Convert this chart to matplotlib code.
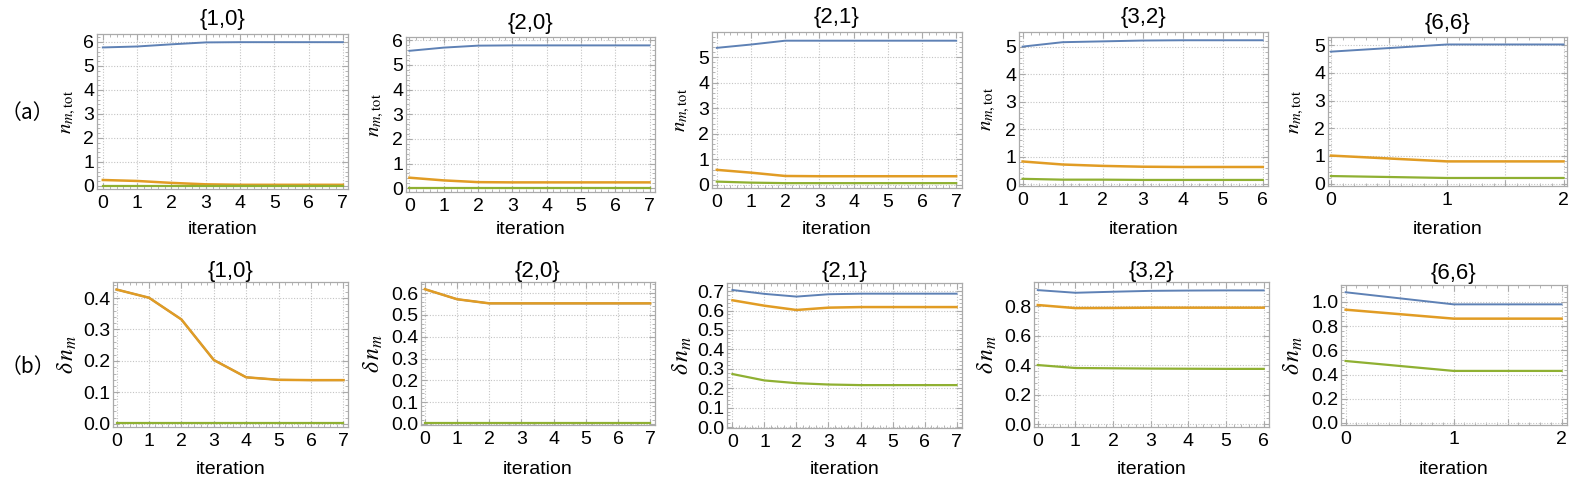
import matplotlib
matplotlib.use("Agg")
import matplotlib.pyplot as plt
from matplotlib.ticker import MultipleLocator, AutoMinorLocator, FuncFormatter

W, H = 1578, 483

plt.rcParams["font.family"] = ["Liberation Sans", "DejaVu Sans"]
plt.rcParams["mathtext.fontset"] = "stix"

# Daten
titles = ["{1,0}", "{2,0}", "{2,1}", "{3,2}", "{6,6}"]
iters = [list(range(8)), list(range(8)), list(range(8)), list(range(7)), list(range(3))]

# (a) n_m,tot
ntot_blue = [
    [5.77, 5.81, 5.90, 5.98, 5.99, 5.99, 5.99, 5.99],
    [5.57, 5.70, 5.78, 5.79, 5.79, 5.79, 5.79, 5.79],
    [5.36, 5.49, 5.64, 5.64, 5.64, 5.64, 5.64, 5.64],
    [5.00, 5.16, 5.19, 5.22, 5.23, 5.23, 5.23],
    [4.77, 5.03, 5.03],
]
ntot_orange = [
    [0.25, 0.21, 0.13, 0.07, 0.05, 0.05, 0.05, 0.05],
    [0.43, 0.32, 0.25, 0.24, 0.24, 0.24, 0.24, 0.24],
    [0.59, 0.48, 0.35, 0.34, 0.34, 0.34, 0.34, 0.34],
    [0.83, 0.72, 0.67, 0.64, 0.63, 0.63, 0.63],
    [1.01, 0.80, 0.80],
]
ntot_green = [
    [0.02, 0.02, 0.02, 0.02, 0.02, 0.02, 0.02, 0.02],
    [0.01, 0.01, 0.01, 0.01, 0.01, 0.01, 0.01, 0.01],
    [0.13, 0.09, 0.07, 0.07, 0.07, 0.07, 0.07, 0.07],
    [0.20, 0.17, 0.17, 0.16, 0.16, 0.16, 0.16],
    [0.27, 0.20, 0.20],
]

# (b) delta n_m  (blau liegt in den ersten beiden unter orange)
dn_blue = [
    [0.427, 0.401, 0.332, 0.203, 0.148, 0.140, 0.139, 0.139],
    [0.618, 0.572, 0.553, 0.553, 0.553, 0.553, 0.553, 0.553],
    [0.706, 0.686, 0.672, 0.684, 0.687, 0.687, 0.687, 0.687],
    [0.908, 0.890, 0.897, 0.903, 0.905, 0.906, 0.906],
    [1.080, 0.980, 0.980],
]
dn_orange = [
    [0.427, 0.401, 0.332, 0.203, 0.148, 0.140, 0.139, 0.139],
    [0.618, 0.572, 0.553, 0.553, 0.553, 0.553, 0.553, 0.553],
    [0.653, 0.625, 0.603, 0.615, 0.618, 0.618, 0.618, 0.618],
    [0.807, 0.786, 0.787, 0.789, 0.789, 0.789, 0.789],
    [0.936, 0.862, 0.862],
]
dn_green = [
    [0.003, 0.003, 0.003, 0.003, 0.003, 0.003, 0.003, 0.003],
    [0.002, 0.002, 0.002, 0.002, 0.002, 0.002, 0.002, 0.002],
    [0.273, 0.240, 0.226, 0.219, 0.216, 0.216, 0.216, 0.216],
    [0.400, 0.380, 0.378, 0.376, 0.375, 0.374, 0.374],
    [0.512, 0.430, 0.430],
]

BLUE, ORANGE, GREEN = "#5E81B5", "#E19C24", "#8FB032"
FRAME = "#aaaaaa"
GRID = "#c4c4c4"

# Layout (Pixel: links, oben, rechts, unten)
pos_a = [(97, 34, 348, 189), (406, 37, 655, 192), (712, 32, 962, 188),
         (1019, 32, 1268, 186), (1328, 37, 1567, 186)]
pos_b = [(113, 282, 348, 427), (421, 282, 655, 425), (727, 283, 962, 428),
         (1034, 282, 1269, 427), (1341, 285, 1567, 425)]
ylab_a = [68, 376, 683, 989, 1296]
ylab_b = [67, 373, 682, 987, 1293]
xlim_a = [(-0.17, 7.15), (-0.10, 7.16), (-0.14, 7.17), (-0.09, 6.13), (-0.025, 2.03)]
xlim_b = [(-0.11, 7.14), (-0.12, 7.15), (-0.17, 7.17), (-0.10, 6.14), (-0.043, 2.05)]
ylim_a = [(-0.125, 6.33), (-0.15, 6.13), (-0.12, 5.98), (-0.06, 5.53), (-0.09, 5.30)]
ylim_b = [(-0.01, 0.451), (-0.005, 0.651), (-0.005, 0.742), (-0.02, 0.963), (-0.017, 1.14)]
ystep_b = [0.1, 0.1, 0.1, 0.2, 0.2]

fig = plt.figure(figsize=(W / 100, H / 100), dpi=100)


def make_ax(p):
    l, t, r, b = p
    return fig.add_axes([l / W, 1 - b / H, (r - l) / W, (b - t) / H])


def style(ax, xstep, ystep, yfmt):
    for s in ax.spines.values():
        s.set_color(FRAME)
        s.set_linewidth(0.9)
    ax.xaxis.set_major_locator(MultipleLocator(xstep))
    ax.yaxis.set_major_locator(MultipleLocator(ystep))
    ax.xaxis.set_minor_locator(AutoMinorLocator(5))
    ax.yaxis.set_minor_locator(AutoMinorLocator(5))
    ax.xaxis.set_major_formatter(FuncFormatter(
        lambda v, p: "%d" % round(v) if abs(v - round(v)) < 1e-6 else ""))
    ax.yaxis.set_major_formatter(FuncFormatter(lambda v, p: yfmt % v))
    ax.tick_params(which="both", direction="in", top=True, right=True,
                   color=FRAME, labelsize=14, labelcolor="black")
    ax.tick_params(which="major", length=4, width=0.8)
    ax.tick_params(which="minor", length=2, width=0.6)
    ax.tick_params(axis="x", pad=4)
    ax.tick_params(axis="y", pad=2)
    ax.grid(True, which="major", color=GRID, linestyle=(0, (1, 1.5)), linewidth=0.8)
    ax.set_axisbelow(True)


def draw(ax, xs, yb, yo, yg):
    ax.plot(xs, yb, color=BLUE, lw=1.4)
    ax.plot(xs, yo, color=ORANGE, lw=1.8)
    ax.plot(xs, yg, color=GREEN, lw=1.6)


for i in range(5):
    xs = iters[i]
    xstep = 0.5 if len(xs) == 3 else 1

    # Zeile (a)
    ax = make_ax(pos_a[i])
    draw(ax, xs, ntot_blue[i], ntot_orange[i], ntot_green[i])
    ax.set_xlim(*xlim_a[i])
    ax.set_ylim(*ylim_a[i])
    style(ax, xstep, 1, "%d")
    l, t, r, b = pos_a[i]
    fig.text((l + r) / 2 / W, 1 - (t - 14) / H, titles[i], ha="center", va="center", fontsize=16)
    fig.text((l + r) / 2 / W, 1 - 229 / H, "iteration", ha="center", va="center", fontsize=14)
    fig.text(ylab_a[i] / W, 1 - (t + b) / 2 / H, r"$n_{m,\mathrm{tot}}$",
             rotation=90, ha="center", va="center", fontsize=15)

    # Zeile (b)
    ax = make_ax(pos_b[i])
    draw(ax, xs, dn_blue[i], dn_orange[i], dn_green[i])
    ax.set_xlim(*xlim_b[i])
    ax.set_ylim(*ylim_b[i])
    style(ax, xstep, ystep_b[i], "%.1f")
    l, t, r, b = pos_b[i]
    fig.text((l + r) / 2 / W, 1 - (t - 11) / H, titles[i], ha="center", va="center", fontsize=16)
    fig.text((l + r) / 2 / W, 1 - 469 / H, "iteration", ha="center", va="center", fontsize=14)
    fig.text(ylab_b[i] / W, 1 - (t + b) / 2 / H, r"$\delta\, n_m$",
             rotation=90, ha="center", va="center", fontsize=17)

fig.text(0.5 / W, 1 - 113 / H, "（a）", ha="left", va="center", fontsize=15,
         family=["Noto Sans CJK SC", "DejaVu Sans"])
fig.text(0.5 / W, 1 - 367 / H, "（b）", ha="left", va="center", fontsize=15,
         family=["Noto Sans CJK SC", "DejaVu Sans"])

fig.savefig("out.png", dpi=100)
